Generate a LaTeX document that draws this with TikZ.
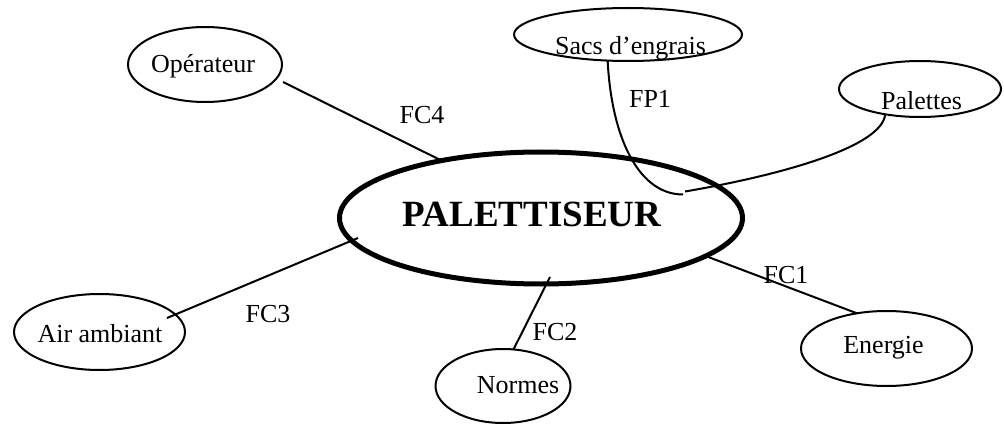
\documentclass[tikz,border=0pt]{standalone}
\usepackage{fontspec}
\setmainfont{Liberation Serif}
\usetikzlibrary{shapes.geometric,calc}
\begin{document}
\begin{tikzpicture}[x=1pt,y=-1pt,
  oval/.style={ellipse,draw,line width=2pt,inner sep=0pt,outer sep=0pt},
  mainoval/.style={ellipse,draw,line width=5pt,inner sep=0pt,outer sep=0pt},
  lbl/.style={inner sep=0pt,anchor=base,font=\fontsize{26}{30}\selectfont},
  link/.style={line width=2pt}]
\useasboundingbox (0,0) rectangle (1004,425);

% environment ovals
\node[oval,minimum width=154pt,minimum height=75pt] (op) at (205,64.5) {};
\node[oval,minimum width=228pt,minimum height=53pt] (sacs) at (628,34.5) {};
\node[oval,minimum width=162pt,minimum height=56pt] (palet) at (920,89) {};
\node[mainoval,minimum width=403pt,minimum height=132pt] (pal) at (541,218) {};
\node[oval,minimum width=171pt,minimum height=76pt] (air) at (99.5,332) {};
\node[oval,minimum width=135pt,minimum height=74pt] (normes) at (503,386) {};
\node[oval,minimum width=171pt,minimum height=75pt] (energie) at (886.5,348.5) {};

% oval texts
\node[lbl] (opT) at (203,73) {Opérateur};
\node[lbl] (sacsT) at (630.5,54.3) {Sacs d’engrais};
\node[lbl] (paletT) at (921.5,109.3) {Palettes};
\node[inner sep=0pt,anchor=base,font=\bfseries\fontsize{37}{40}\selectfont] (palT) at (532,226) {PALETTISEUR};
\node[lbl] (airT) at (100,342) {Air ambiant};
\node[lbl] (normesT) at (518,393.5) {Normes};
\node[lbl] (energieT) at (883.5,353) {Energie};

% function labels
\node[lbl] (fc4) at (422,124) {FC4};
\node[lbl] (fp1) at (650,107.5) {FP1};
\node[lbl] (fc3) at (268,322) {FC3};
\node[lbl] (fc2) at (555,340) {FC2};
\node[lbl] (fc1) at (786,283) {FC1};

% junction of the principal function inside the product
\coordinate (jA) at ($(pal.center)+(142,-23.5)$);
\coordinate (jB) at ($(pal.center)+(144,-26.5)$);

% connectors
\draw[link] ($(op.center)+(78,17.5)$) -- (pal.150);
\draw[link] (sacs.-128) .. controls ($(sacs.-128)+(4,78)$) and ($(jA)+(-44,0)$) .. (jA);
\draw[link] (palet.-144) .. controls ($(palet.-144)+(-3,33)$) and ($(jB)+(94,-16)$) .. (jB);
\draw[link] ($(air.center)+(67.5,-14)$) -- ($(pal.center)+(-183,20)$);
\draw[link] (normes.74) -- ($(pal.center)+(9,59)$);
\draw[link] (energie.130) -- (pal.-13.7);
\end{tikzpicture}
\end{document}
